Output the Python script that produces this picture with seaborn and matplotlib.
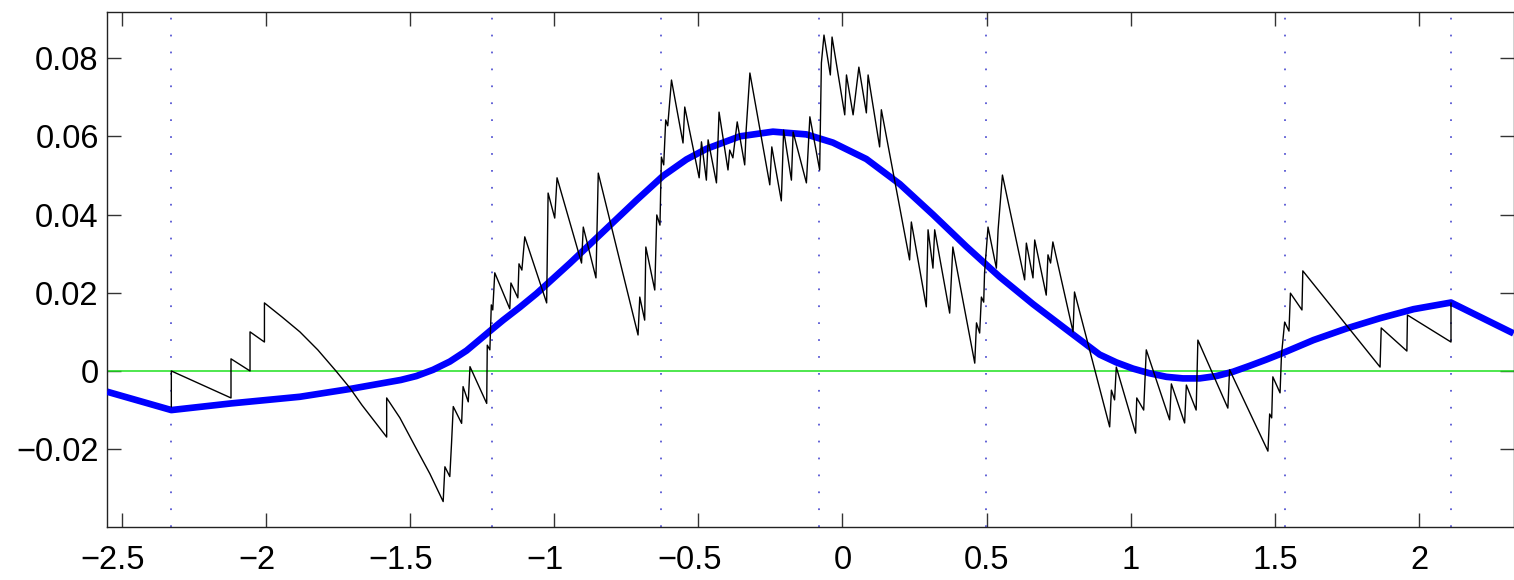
import matplotlib
matplotlib.use("Agg")
import matplotlib.pyplot as plt
import matplotlib.transforms as mtransforms
import pandas as pd
import seaborn as sns

# Knot positions of the piecewise smooth approximation
knots = [-2.328, -1.215, -0.630, -0.081, 0.498, 1.534, 2.111]

# Sawtooth signal (vertices of the polyline)
signal_x = [-2.328, -2.328, -2.121, -2.121, -2.055, -2.055, -2.005, -2.005, -1.944, -1.882,
            -1.820, -1.757, -1.709, -1.667, -1.622, -1.581, -1.581, -1.535, -1.483, -1.431,
            -1.385, -1.379, -1.362, -1.356, -1.350, -1.321,
            -1.316, -1.298, -1.292, -1.234, -1.232, -1.223, -1.218, -1.213, -1.206, -1.154,
            -1.150, -1.126, -1.122, -1.112, -1.102, -1.026, -1.021, -0.998, -0.990, -0.905,
            -0.899, -0.855, -0.847, -0.709, -0.703, -0.686, -0.682, -0.651, -0.644, -0.633,
            -0.628, -0.620, -0.613, -0.606, -0.593, -0.553, -0.547, -0.497, -0.489, -0.472,
            -0.466, -0.437, -0.428, -0.397, -0.391, -0.380, -0.365, -0.339, -0.334, -0.321,
            -0.252, -0.245, -0.212, -0.204, -0.177, -0.171, -0.125, -0.113, -0.079, -0.073,
            -0.064, -0.042, -0.036, 0.008, 0.014, 0.037, 0.057, 0.083, 0.089, 0.129,
            0.135, 0.233, 0.239, 0.291, 0.297, 0.314, 0.320, 0.372, 0.383, 0.459,
            0.465, 0.476, 0.482, 0.490, 0.493, 0.505, 0.534, 0.540, 0.555, 0.632,
            0.638, 0.661, 0.667, 0.707, 0.713, 0.722, 0.730, 0.800, 0.805, 0.927,
            0.933, 0.944, 0.950, 1.017, 1.021, 1.045, 1.054, 1.135, 1.141, 1.187,
            1.193, 1.227, 1.233, 1.337, 1.343, 1.476, 1.482, 1.489, 1.493, 1.518,
            1.523, 1.534, 1.549, 1.554, 1.594, 1.597, 1.865, 1.869, 1.958, 1.960,
            2.111, 2.111]
signal_y = [-0.0092, 0.0000, -0.0069, 0.0031, 0.0000, 0.0100, 0.0074, 0.0174, 0.0138, 0.0100,
            0.0054, 0.0000, -0.0043, -0.0087, -0.0130, -0.0169, -0.0069, -0.0120, -0.0192, -0.0263,
            -0.0334, -0.0245, -0.0270, -0.0185, -0.0091, -0.0134,
            -0.0040, -0.0079, 0.0011, -0.0083, 0.0066, 0.0054, 0.0169, 0.0156, 0.0251, 0.0159,
            0.0225, 0.0187, 0.0274, 0.0258, 0.0343, 0.0174, 0.0455, 0.0391, 0.0494, 0.0276,
            0.0368, 0.0238, 0.0506, 0.0092, 0.0189, 0.0130, 0.0317, 0.0207, 0.0399, 0.0373,
            0.0547, 0.0527, 0.0642, 0.0627, 0.0744, 0.0583, 0.0675, 0.0494, 0.0586, 0.0488,
            0.0591, 0.0481, 0.0662, 0.0514, 0.0565, 0.0545, 0.0637, 0.0527, 0.0616, 0.0762,
            0.0476, 0.0573, 0.0435, 0.0616, 0.0488, 0.0611, 0.0481, 0.0650, 0.0514, 0.0788,
            0.0859, 0.0757, 0.0854, 0.0655, 0.0757, 0.0655, 0.0777, 0.0660, 0.0757, 0.0573,
            0.0668, 0.0284, 0.0381, 0.0164, 0.0361, 0.0263, 0.0361, 0.0148, 0.0317, 0.0020,
            0.0123, 0.0097, 0.0189, 0.0176, 0.0251, 0.0368, 0.0263, 0.0361, 0.0501, 0.0233,
            0.0327, 0.0238, 0.0335, 0.0194, 0.0297, 0.0276, 0.0330, 0.0100, 0.0202, -0.0143,
            -0.0049, -0.0074, 0.0010, -0.0159, -0.0069, -0.0100, 0.0054, -0.0125, -0.0033, -0.0133,
            -0.0036, -0.0100, 0.0079, -0.0095, 0.0003, -0.0205, -0.0110, -0.0120, -0.0015, -0.0056,
            0.0041, 0.0125, 0.0102, 0.0199, 0.0156, 0.0256, 0.0010, 0.0110, 0.0051, 0.0143,
            0.0074, 0.0174]

# Smooth approximation
approx_x = [-2.551, -2.328, -2.121, -1.882, -1.708, -1.532, -1.478, -1.420, -1.362, -1.304,
            -1.265, -1.223, -1.177, -1.119, -1.061, -0.946, -0.830, -0.714, -0.622, -0.541,
            -0.472, -0.356, -0.241, -0.125, -0.033, 0.083, 0.199, 0.314, 0.430, 0.545,
            0.661, 0.777, 0.892, 0.950, 1.008, 1.066, 1.124, 1.181, 1.239, 1.297,
            1.355, 1.412, 1.470, 1.528, 1.634, 1.750, 1.865, 1.981, 2.111, 2.328]
approx_y = [-0.0053, -0.0100, -0.0083, -0.0066, -0.0046, -0.0023, -0.0013, 0.0003, 0.0024, 0.0052,
            0.0076, 0.0102, 0.0130, 0.0163, 0.0198, 0.0275, 0.0356, 0.0437, 0.0499, 0.0541,
            0.0568, 0.0600, 0.0612, 0.0605, 0.0584, 0.0542, 0.0478, 0.0400, 0.0318, 0.0241,
            0.0171, 0.0106, 0.0042, 0.0022, 0.0006, -0.0006, -0.0015, -0.0019, -0.0019, -0.0013,
            -0.0002, 0.0013, 0.0029, 0.0046, 0.0079, 0.0109, 0.0135, 0.0158, 0.0175, 0.0096]

x_ticks = [-2.5, -2, -1.5, -1, -0.5, 0, 0.5, 1, 1.5, 2]
y_ticks = [-0.02, 0, 0.02, 0.04, 0.06, 0.08]
x_limits = (-2.551, 2.328)
y_limits = (-0.0399, 0.0918)

signal = pd.DataFrame({"x": signal_x, "y": signal_y})
approx = pd.DataFrame({"x": approx_x, "y": approx_y})

sns.set_theme(style="ticks")
plt.rcParams["font.family"] = ["Liberation Sans", "DejaVu Sans"]

fig = plt.figure(figsize=(15.14, 5.8), dpi=100)
ax = fig.add_axes([0.0707, 0.0914, 0.9290, 0.8879])

# knot markers
for k in knots:
    ax.axvline(k, color="#6262d6", lw=1.4, linestyle=(0, (0.9, 7.8)), zorder=1)

# zero line
ax.axhline(0, color="#1ee01e", lw=1.1, zorder=2)

sns.lineplot(data=approx, x="x", y="y", ax=ax, color="#0000ff", lw=4.8,
             estimator=None, sort=False, zorder=3,
             solid_joinstyle="round", solid_capstyle="butt")
sns.lineplot(data=signal, x="x", y="y", ax=ax, color="black", lw=1.0,
             estimator=None, sort=False, zorder=4)

ax.set_xlim(*x_limits)
ax.set_ylim(*y_limits)
ax.set_xticks(x_ticks)
ax.set_yticks(y_ticks)
ax.set_xticklabels([f"{v:g}".replace("-", "\u2212") for v in x_ticks])
ax.set_yticklabels([f"{v:g}".replace("-", "\u2212") for v in y_ticks])
ax.set_xlabel("")
ax.set_ylabel("")

for side in ["left", "right", "top", "bottom"]:
    ax.spines[side].set_visible(True)
    ax.spines[side].set_color("#222222")
    ax.spines[side].set_linewidth(1.0)

ax.tick_params(axis="both", direction="in", length=10, width=1.0, color="#333333",
               top=True, right=True, labelsize=23.5, labelcolor="black")
ax.tick_params(axis="x", pad=13)
ax.tick_params(axis="y", pad=6)

# negative x labels sit slightly left of their ticks
shift = mtransforms.ScaledTranslation(-0.09, 0, fig.dpi_scale_trans)
for v, lab in zip(x_ticks, ax.get_xticklabels()):
    if v < 0:
        lab.set_transform(lab.get_transform() + shift)

fig.savefig("out.png", dpi=100)
